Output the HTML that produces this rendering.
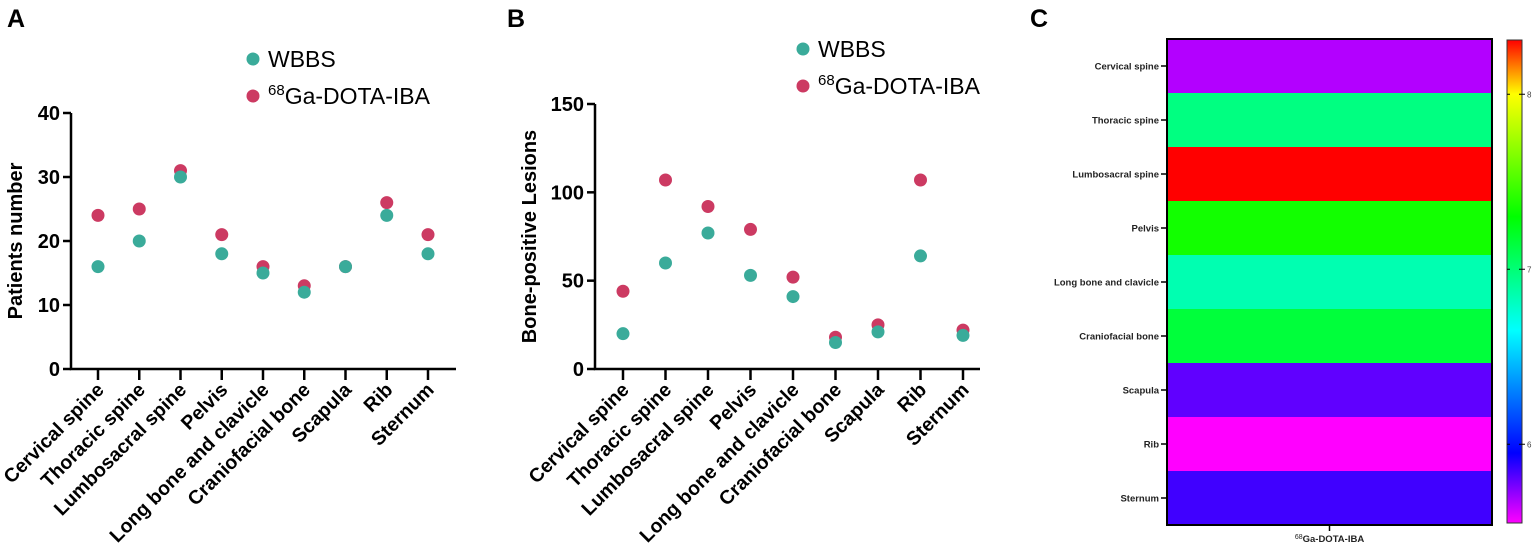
<!DOCTYPE html>
<html><head><meta charset="utf-8">
<style>
body{margin:0;background:#fff;}
svg{display:block;font-family:"Liberation Sans",Arial,sans-serif;}
</style></head>
<body>
<svg id="fig" width="1535" height="559" viewBox="0 0 1535 559"></svg>
<script>
const categories=["Cervical spine","Thoracic spine","Lumbosacral spine","Pelvis","Long bone and clavicle","Craniofacial bone","Scapula","Rib","Sternum"];
const patientsWBBS=[16,20,30,18,15,12,16,24,18];
const patientsGa=[24,25,31,21,16,13,16,26,21];
const lesionsWBBS=[20,60,77,53,41,15,21,64,19];
const lesionsGa=[44,107,92,79,52,18,25,107,22];
const ticksA=[0,10,20,30,40];
const ticksB=[0,50,100,150];
const heatValues=[5.67,6.97,8.31,7.35,6.85,7.15,5.8,5.55,5.85];
const cbTicks=[6,7,8];

const NS="http://www.w3.org/2000/svg";
const svg=document.getElementById('fig');
function mk(tag,attrs,parent,text){const e=document.createElementNS(NS,tag);for(const k in attrs)e.setAttribute(k,attrs[k]);if(text!==undefined)e.textContent=text;(parent||svg).appendChild(e);return e;}
const TEAL="#3aab9a",RED="#cc3a62";

function panel(cfg){
  const g=mk('g',{});
  
  
  const y=v=>cfg.y0-(v-0)/(cfg.max)*(cfg.y0-cfg.yTop);
  const x=i=>cfg.x0+cfg.step*i;
  const ax=mk('path',{d:`M${cfg.ax} ${cfg.yTop} V${cfg.y0} H${cfg.axEnd}`,stroke:'#000','stroke-width':2.5,fill:'none'},g);
  
  cfg.ticks.forEach(t=>{
    const ln=mk('line',{x1:cfg.ax-8,x2:cfg.ax,y1:y(t),y2:y(t),stroke:'#000','stroke-width':2.5},g);
    
    const tx=mk('text',{x:cfg.ax-11,y:y(t)+7,'text-anchor':'end','font-size':20,'font-weight':'bold'},g,t);
    
  });
  categories.forEach((c,i)=>{
    const ln=mk('line',{x1:x(i),x2:x(i),y1:cfg.y0,y2:cfg.y0+11,stroke:'#000','stroke-width':2.5},g);
    
    const tx=mk('text',{x:0,y:0,'text-anchor':'end','font-size':19.5,'font-weight':'bold',transform:`translate(${x(i)+7},${cfg.y0+22}) rotate(-45)`},g,c);
    
  });
  const yt=mk('text',{x:0,y:0,'text-anchor':'middle','font-size':20,'font-weight':'bold',transform:`translate(${cfg.ytx},${(cfg.yTop+cfg.y0)/2}) rotate(-90)`},g,cfg.ytitle);
  
  cfg.s1.forEach((v,i)=>{const c=mk('circle',{cx:x(i),cy:y(v),r:6.5,fill:RED},g);});
  cfg.s0.forEach((v,i)=>{const c=mk('circle',{cx:x(i),cy:y(v),r:6.5,fill:TEAL},g);});
  const l1=mk('circle',{cx:cfg.lx,cy:cfg.ly,r:6.5,fill:TEAL},g);
  const t1=mk('text',{x:cfg.lx+15,y:cfg.ly+8,'font-size':23},g,'WBBS');
  const l2=mk('circle',{cx:cfg.lx,cy:cfg.ly+37,r:6.5,fill:RED},g);
  const t2=mk('text',{x:cfg.lx+15,y:cfg.ly+45,'font-size':23},g);
  mk('tspan',{'font-size':15,dy:-9},t2,'68');mk('tspan',{dy:9},t2,'Ga-DOTA-IBA');
  const tl=mk('text',{x:cfg.px,y:27,'font-size':25,'font-weight':'bold'},g,cfg.letter);
  
}
panel({name:'panel-a',letter:'A',px:7,ax:71,axEnd:456,yTop:113,y0:369,max:40,x0:98,step:41.25,ticks:ticksA,s0:patientsWBBS,s1:patientsGa,ytitle:'Patients number',ytx:22,lx:253,ly:59});
panel({name:'panel-b',letter:'B',px:507,ax:595,axEnd:980,yTop:104,y0:369,max:150,x0:623,step:42.5,ticks:ticksB,s0:lesionsWBBS,s1:lesionsGa,ytitle:'Bone-positive Lesions',ytx:536,lx:803,ly:49});

// Panel C
const stops=[[5.55,[255,0,255]],[5.95,[0,0,255]],[6.65,[0,255,255]],[7.3,[0,255,0]],[8.0,[255,255,0]],[8.31,[255,0,0]]];
function cmap(v){
  if(v<=stops[0][0])return stops[0][1];
  for(let i=1;i<stops.length;i++){if(v<=stops[i][0]){const a=stops[i-1],b=stops[i];const t=(v-a[0])/(b[0]-a[0]);return a[1].map((c,k)=>Math.round(c+(b[1][k]-c)*t));}}
  return stops[stops.length-1][1];
}
const gC=mk('g',{});


const hx0=1167,hx1=1492,hy0=39,hy1=525,rh=(hy1-hy0)/categories.length;
categories.forEach((c,i)=>{
  const col=cmap(heatValues[i]);
  const r=mk('rect',{x:hx0,y:hy0+i*rh,width:hx1-hx0,height:rh+0.5,fill:`rgb(${col.join(',')})`},gC);
  
  const cy=hy0+(i+0.5)*rh;
  const tk=mk('line',{x1:hx0-6,x2:hx0,y1:cy,y2:cy,stroke:'#000','stroke-width':1.5},gC);
  
  const tx=mk('text',{x:hx0-8,y:cy+3.5,'text-anchor':'end','font-size':9.5,'font-weight':'bold',fill:'#222'},gC,c);
  
});
const hb=mk('rect',{x:hx0,y:hy0,width:hx1-hx0,height:hy1-hy0,fill:'none',stroke:'#000','stroke-width':2},gC);

const xt=mk('line',{x1:(hx0+hx1)/2,x2:(hx0+hx1)/2,y1:hy1,y2:hy1+6,stroke:'#000','stroke-width':1.5},gC);

const xl=mk('text',{x:(hx0+hx1)/2,y:hy1+17,'text-anchor':'middle','font-size':9.5,'font-weight':'bold',fill:'#222'},gC);

mk('tspan',{'font-size':7,'font-weight':'normal',dy:-3},xl,'68');mk('tspan',{dy:3},xl,'Ga-DOTA-IBA');
// colorbar
const defs=mk('defs',{});
const lg=mk('linearGradient',{id:'cbg',x1:0,y1:1,x2:0,y2:0},defs);
const vmin=5.55,vmax=8.31;
stops.forEach(s=>mk('stop',{offset:((s[0]-vmin)/(vmax-vmin)).toFixed(4),'stop-color':`rgb(${s[1].join(',')})`},lg));
const cbx=1507,cbw=15,cbTop=40,cbBot=523;
const cb=mk('rect',{x:cbx,y:cbTop,width:cbw,height:cbBot-cbTop,fill:'url(#cbg)',stroke:'#333','stroke-width':1},gC);

const cy=v=>cbBot-(v-vmin)/(vmax-vmin)*(cbBot-cbTop);
cbTicks.forEach(t=>{
  const l=mk('line',{x1:cbx,x2:cbx+3,y1:cy(t),y2:cy(t),stroke:'#000','stroke-width':1},gC);
  
  const l2=mk('line',{x1:cbx+cbw-3,x2:cbx+cbw+3,y1:cy(t),y2:cy(t),stroke:'#000','stroke-width':1},gC);
  
  const tx=mk('text',{x:cbx+cbw+5,y:cy(t)+3,'font-size':8,fill:'#444'},gC,t);
  
});
const tc=mk('text',{x:1030,y:27,'font-size':25,'font-weight':'bold'},gC,'C');

</script>
</body></html>
